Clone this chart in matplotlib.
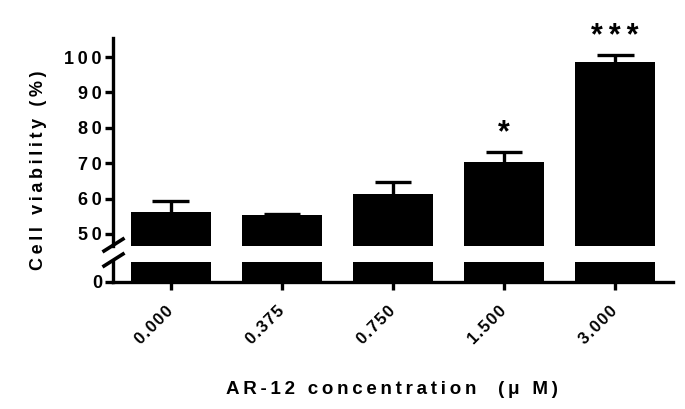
import numpy as np
import matplotlib.pyplot as plt

concentrations = ['0.000', '0.375', '0.750', '1.500', '3.000']
viability = [56.3, 55.4, 61.2, 70.4, 98.7]
sem = [3.0, 0.35, 3.5, 2.8, 1.8]
stars = ['', '', '', '*', '***']

FONT = ['Liberation Sans', 'DejaVu Sans']
HS = '\u2009'


def spaced(s, sep=HS):
    return sep.join(s)


fig = plt.figure(figsize=(6.85, 4.09), dpi=100)
left, right = 113 / 685, 673 / 685
ax_top = fig.add_axes([left, 1 - 246 / 409, right - left, (246 - 38) / 409])
ax_bot = fig.add_axes([left, 1 - 282 / 409, right - left, 20 / 409])

x = np.arange(len(concentrations))
for ax in (ax_top, ax_bot):
    ax.bar(x, viability, width=0.72, color='black', edgecolor='none')
    ax.set_xlim(-0.52, 4.52)
    for s in ('top', 'right'):
        ax.spines[s].set_visible(False)
    ax.spines['left'].set_linewidth(2.4)
    ax.spines['bottom'].set_linewidth(2.4)
    ax.tick_params(width=2.4, length=6)

# upper error bars only
tops = np.array(viability) + np.array(sem)
ax_top.vlines(x, viability, tops, color='black', lw=2.4)
ax_top.hlines(tops, x - 0.165, x + 0.165, color='black', lw=2.4)
for xi, t, st in zip(x, tops, stars):
    if st:
        ax_top.text(xi, t + 1.0, spaced(st), ha='center', va='bottom',
                    fontsize=22, fontweight='bold', family=FONT)

ax_top.set_ylim(46.6, 105.4)
ax_top.set_yticks([50, 60, 70, 80, 90, 100])
ax_top.set_yticklabels([spaced(str(t)) for t in [50, 60, 70, 80, 90, 100]])
ax_top.spines['bottom'].set_visible(False)
ax_top.tick_params(axis='x', bottom=False, labelbottom=False)

ax_bot.set_ylim(0, 5)
ax_bot.set_yticks([0])
ax_bot.set_yticklabels(['0'])
ax_bot.set_xticks(x)
ax_bot.set_xticklabels([spaced(c, '\u200a') for c in concentrations], rotation=45,
                       ha='right', va='center', rotation_mode='anchor')
ax_bot.tick_params(axis='x', length=6, pad=13)

for ax in (ax_top, ax_bot):
    for lab in ax.get_yticklabels():
        lab.set_fontfamily(FONT)
        lab.set_fontweight('bold')
        lab.set_fontsize(13)
    for lab in ax.get_xticklabels():
        lab.set_fontfamily(FONT)
        lab.set_fontweight('bold')
        lab.set_fontsize(12)
    ax.tick_params(axis='y', pad=2)

# axis break marks
for yc in (245, 260):
    xs = np.array([104, 123]) / 685
    ys = 1 - np.array([yc + 6, yc - 6]) / 409
    fig.add_artist(plt.Line2D(xs, ys, color='black', lw=2.6))

fig.text(39 / 685, 1 - 170 / 409, spaced('Cell viability (%)'), rotation=90,
         ha='center', va='center', fontsize=13, fontweight='bold', family=FONT)
fig.text(392 / 685, 1 - 389 / 409, spaced('AR-12 concentration  (\u03bc M)'),
         ha='center', va='center', fontsize=13.5, fontweight='bold', family=FONT)

fig.savefig('out.png', dpi=100)
